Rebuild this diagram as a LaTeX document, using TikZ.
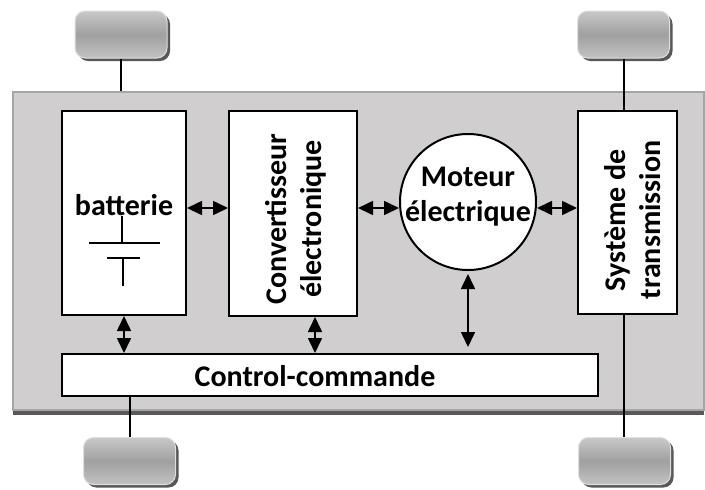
\documentclass[tikz,border=0pt]{standalone}
\usepackage{fontspec}
\setmainfont{Carlito}
\usetikzlibrary{arrows.meta, positioning, calc, shadows}

\definecolor{chassisgray}{RGB}{208,206,207}
\definecolor{chassisedge}{RGB}{165,165,165}
\definecolor{wheeltop}{RGB}{200,200,200}
\definecolor{wheelmid}{RGB}{160,160,160}
\definecolor{wheelbot}{RGB}{194,194,194}
\definecolor{shadowgray}{RGB}{88,88,88}

\begin{document}
\begin{tikzpicture} [
    x=0.5pt, y=-0.5pt,
    chassis_box/.style={rectangle, draw=chassisedge, fill=chassisgray, line width=0.8pt, minimum width=345.5pt, minimum height=159pt, drop shadow={shadow xshift=0pt, shadow yshift=-2.5pt, fill=black!65, opacity=1}},
    wheel/.style={rectangle, rounded corners=5pt, draw=white!75!gray, line width=0.5pt, top color=wheeltop, bottom color=wheelbot, middle color=wheelmid, minimum width=46pt, minimum height=23.5pt, drop shadow={shadow xshift=1.5pt, shadow yshift=-1.5pt, fill=shadowgray, opacity=1}},
    block/.style={rectangle, draw, fill=white, line width=1pt, inner sep=0pt},
    label_text/.style={font=\bfseries\fontsize{15}{17.5}\selectfont, text centered, align=center, inner sep=0pt},
    line/.style={draw, line width=0.8pt},
    biarrow/.style={line, {Triangle[length=7.5pt,width=7pt]}-{Triangle[length=7.5pt,width=7pt]}},
    axle/.style={draw, line width=1pt}
]
    \useasboundingbox (0,0) rectangle (705,489);
    \fill[white] (0,0) rectangle (705,489);

    % Chassis and wheels
    \node[chassis_box] (chassis) at (358.5,251) {};
    \node[wheel] (wtl) at (121,34.5) {};
    \node[wheel] (wtr) at (623.5,34.5) {};
    \node[wheel] (wbl) at (129.5,461) {};
    \node[wheel] (wbr) at (624.5,461) {};

    % Axles
    \path [axle] (wtl.south) -- (wtl.south |- chassis.north);
    \path [axle] (wtr.south) -- (wtr.south |- wbr.north);

    % Blocks
    \node[block, minimum width=62pt, minimum height=102pt] (batt) at (124,213) {};
    \node[label_text] (batt_text) at (124,205) {batterie};
    \node[block, minimum width=64pt, minimum height=102.5pt] (conv) at (293,213.5) {};
    \node[label_text, rotate=90] (conv_text) at (296,219) {Convertisseur\\électronique};
    \node[block, circle, minimum size=68pt] (motor) at (468,202) {};
    \node[label_text] (motor_text) at (468,197) {Moteur\\électrique};
    \node[block, minimum width=49.5pt, minimum height=101.5pt] (trans) at (627.5,212.5) {};
    \node[label_text, rotate=90] (trans_text) at (633,220) {Système de\\transmission};
    \node[block, minimum width=268pt, minimum height=21pt] (ctrl) at (330,375) {};
    \node[label_text] (ctrl_text) at (315,376) {Control-commande};

    \path [axle] (ctrl.south -| wbl) -- (wbl.north);

    % Battery symbol
    \draw[line, line width=0.7pt] ($(batt)+(-2,3)$) -- ($(batt)+(-2,30)$);
    \draw[line, line width=0.7pt] ($(batt)+(-35,30)$) -- ($(batt)+(36,30)$);
    \draw[line, line width=0.7pt] ($(batt)+(-17,45)$) -- ($(batt)+(16,45)$);
    \draw[line, line width=0.7pt] ($(batt)+(-1,45)$) -- ($(batt)+(-1,73)$);

    % Arrows
    \coordinate (row) at (0,208);
    \path [biarrow] (batt.east |- row) -- (conv.west |- row);
    \path [biarrow] (conv.east |- row) -- (motor.west |- row);
    \path [biarrow] (motor.east |- row) -- (trans.west |- row);
    \path [biarrow] (batt.south) -- (batt.south |- ctrl.north);
    \path [biarrow] ([xshift=11pt]conv.south) -- ([xshift=11pt]conv.south |- ctrl.north);
    \path [biarrow, shorten <=1.5pt, shorten >=3pt] (motor.south) -- (motor.south |- ctrl.north);

\end{tikzpicture}
\end{document}
